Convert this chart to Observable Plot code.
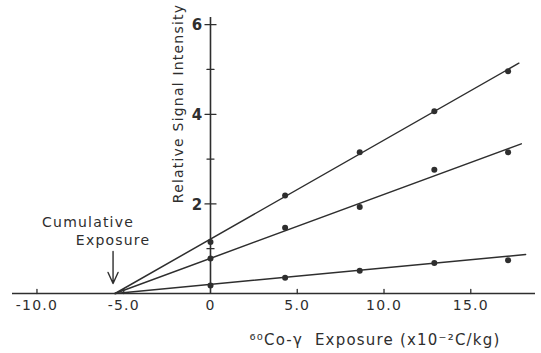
<!DOCTYPE html>
<html><head><meta charset="utf-8">
<script src="https://cdn.jsdelivr.net/npm/d3@7"></script>
<script src="https://cdn.jsdelivr.net/npm/@observablehq/plot@0.6"></script>
<style>
body{margin:0;background:#fff}
svg{display:block}
#chart text{letter-spacing:1.2px}
</style>
</head><body><div id="chart"></div>
<script>
// Data
const exposures = [0, 4.3, 8.6, 12.9, 17.15];
const seriesTop = [1.15, 2.19, 3.15, 4.07, 4.96];
const seriesMid = [0.78, 1.47, 1.93, 2.76, 3.15];
const seriesLow = [0.18, 0.35, 0.51, 0.68, 0.74];
const seriesNames = ["top", "middle", "low"];
const cumulativeExposure = -5.5;
const fitEndX = [17.77, 17.91, 18.16];
const fitEndY = [5.14, 3.34, 0.87];
const xTicks = [-10, -5, 0, 5, 10, 15];
const xTickLabels = ["-10.0", "-5.0", "0", "5.0", "10.0", "15.0"];
const xTickMarks = [-10, -5, 5, 10, 15];
const yMajorTicks = [2, 4, 6];
const yMinorTicks = [1, 3, 5];
const yTickLabels = ["2", "4", "6"];
const xTitle = "⁶⁰Co-γ  Exposure (x10⁻²C/kg)";
const yTitle = "Relative Signal Intensity";
const annotation = ["Cumulative", "Exposure"];

const allSeries = [seriesTop, seriesMid, seriesLow];
const points = allSeries.flatMap((vals, i) => vals.map((v, j) => ({x: exposures[j], y: v, s: seriesNames[i]})));
const fits = allSeries.flatMap((vals, i) => [
  {x: cumulativeExposure, y: 0, s: seriesNames[i]},
  {x: fitEndX[i], y: fitEndY[i], s: seriesNames[i]}
]);

const ink = "#2e2e2e";
const font = "DejaVu Sans";
const lineShape = {draw(ctx, l) { ctx.moveTo(0, 0); ctx.lineTo(0, -l); }};
const arrowShape = {draw(ctx, l) {
  ctx.moveTo(0, 0); ctx.lineTo(0, -l);
  ctx.moveTo(-5, -l + 11); ctx.lineTo(0, -l); ctx.lineTo(5, -l + 11);
}};

const chart = Plot.plot({
  width: 541,
  height: 353,
  marginLeft: 12,
  marginRight: 6,
  marginTop: 17,
  marginBottom: 60,
  x: {domain: [-11.41, 18.73], axis: null},
  y: {domain: [0, 6.16], axis: null},
  style: {fontFamily: font, fontSize: "14px", color: ink, background: "#fff"},
  marks: [
    Plot.ruleY([0], {stroke: ink, strokeWidth: 1.6}),
    Plot.ruleX([0], {y1: 0, y2: 6.16, stroke: ink, strokeWidth: 1.6}),
    Plot.vector(xTickMarks, {x: d => d, y: 0, length: 4, rotate: 0, anchor: "start", shape: lineShape, stroke: ink, strokeWidth: 1.3}),
    Plot.vector(yMajorTicks, {x: 0, y: d => d, length: 11, rotate: 90, anchor: "middle", shape: lineShape, stroke: ink, strokeWidth: 1.3}),
    Plot.vector(yMinorTicks, {x: 0, y: d => d, length: 7, rotate: 90, anchor: "middle", shape: lineShape, stroke: ink, strokeWidth: 1.3}),
    Plot.text(xTicks, {x: d => d, y: 0, text: (d, i) => xTickLabels[i], dy: 12, fill: ink, fontSize: 14}),
    Plot.text(yMajorTicks, {x: 0, y: d => d, text: (d, i) => yTickLabels[i], dx: -13, dy: 1, fill: ink, fontSize: 15, fontWeight: "bold"}),
    Plot.line(fits, {x: "x", y: "y", z: "s", stroke: ink, strokeWidth: 1.5}),
    Plot.dot(points, {x: "x", y: "y", r: 3, fill: ink, stroke: "none"}),
    Plot.text([annotation[0]], {x: cumulativeExposure, y: 0, text: d => d, dx: -27, dy: -71, fill: ink, fontSize: 14}),
    Plot.text([annotation[1]], {x: cumulativeExposure, y: 0, text: d => d, dx: -2, dy: -53, fill: ink, fontSize: 14}),
    Plot.vector([cumulativeExposure], {x: d => d, y: 0, length: 32, rotate: 180, anchor: "end", dx: -2, dy: -10, shape: arrowShape, stroke: ink, strokeWidth: 1.4}),
    Plot.text([xTitle], {frameAnchor: "bottom-right", text: d => d, textAnchor: "end", dx: -35, dy: 51, fill: ink, fontSize: 15}),
    Plot.text([yTitle], {frameAnchor: "left", text: d => d, textAnchor: "middle", rotate: -90, dx: 166, dy: -52, fill: ink, fontSize: 14})
  ]
});
document.getElementById("chart").append(chart);
</script>
</body></html>
